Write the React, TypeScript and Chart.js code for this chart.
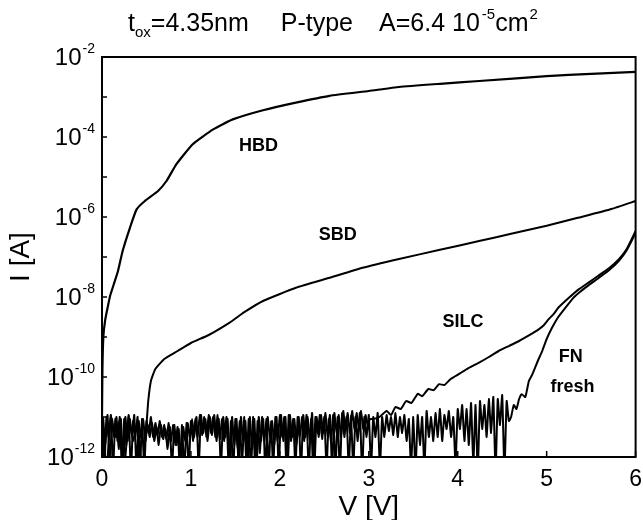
import React, { useEffect, useRef } from "react";
import { Chart, registerables } from "chart.js";

Chart.register(...registerables);

const FONT = "'Liberation Sans', Arial, Helvetica, sans-serif";

// Title pieces: text and script level (0 normal, -1 subscript, 1 superscript)
const titlePieces = ["t", "ox", "=4.35nm", "P-type", "A=6.4 10", "-5", "cm", "2"];
const titleLevels = [0, -1, 0, 0, 0, 1, 0, 1];
const titleGapsAfter = [0, 0, 32, 26, 2, 0, 1, 0];
const xAxisTitle = "V [V]";
const yAxisTitle = "I [A]";

const xTickValues = [0, 1, 2, 3, 4, 5, 6];
const yTickExponents = [-12, -11, -10, -9, -8, -7, -6, -5, -4, -3, -2];
const yLabelExponents = [-12, -10, -8, -6, -4, -2];

// HBD curve (V, log10 I)
const hbdV = [0, 0.005, 0.015, 0.034, 0.06, 0.09, 0.13, 0.18, 0.232, 0.314, 0.389, 0.482, 0.63, 0.725, 0.837, 1.02, 1.25, 1.47, 1.81, 2.18, 2.56, 3.0, 3.34, 3.8, 4.24, 5.0, 5.5, 6.0];
const hbdLogI = [-11.0, -9.8, -9.0, -8.6, -8.3, -7.98, -7.7, -7.35, -6.85, -6.27, -5.81, -5.6, -5.35, -5.1, -4.68, -4.18, -3.81, -3.56, -3.33, -3.14, -2.97, -2.85, -2.75, -2.67, -2.6, -2.48, -2.42, -2.37];

// SBD: noise floor then curve
const sbdNoiseStartV = 0.0;
const sbdNoiseStepV = 0.05;
const sbdNoiseLogI = [-11.05, -12.3, -11.0, -11.5, -11.1, -12.3, -11.0, -11.6, -11.1, -12.4, -11.2];
const sbdV = [0.52, 0.55, 0.6, 0.7, 0.85, 1.0, 1.2, 1.435, 1.6, 1.81, 2.18, 2.56, 2.93, 3.34, 3.8, 4.24, 4.6, 5.0, 5.35, 5.73, 6.0];
const sbdLogI = [-10.6, -10.1, -9.8, -9.55, -9.35, -9.15, -8.95, -8.64, -8.38, -8.1, -7.77, -7.52, -7.27, -7.05, -6.82, -6.6, -6.42, -6.22, -6.02, -5.8, -5.6];

// SILC: noise floor then curve
const silcNoiseStartV = 0.0125;
const silcNoiseStepV = 0.025;
const silcNoiseLogI = [
  -11.0, -11.7, -10.95, -12.3, -11.05, -11.5, -11.0, -11.8, -11.05, -12.4,
  -11.0, -11.6, -11.05, -11.45, -10.95, -12.3, -11.1, -11.5, -11.05, -11.6,
  -11.2, -11.5, -11.15, -11.6, -11.25, -11.7, -11.2, -11.55, -11.3, -11.8,
  -11.25, -12.3, -11.2, -11.7, -11.3, -12.4, -11.25, -11.6, -11.15, -11.5,
  -11.05, -11.5, -11.0, -12.3, -10.95, -11.4, -11.05, -11.6, -11.0, -11.45,
  -10.95, -11.6, -11.05, -12.3, -11.0, -11.5, -11.05, -12.4, -11.0, -11.7,
  -11.05, -12.3, -11.0, -11.6, -11.1, -12.4, -11.0, -11.8, -11.05, -12.3,
  -11.0, -11.6, -11.05, -12.4, -11.0, -11.5, -11.1, -11.7, -11.0, -12.3,
  -10.95, -11.6, -11.0, -12.3, -10.95, -11.5, -11.05, -11.7, -11.0, -12.4,
  -10.95, -11.5, -11.0, -11.6, -10.9, -12.3, -11.0, -11.5, -10.95, -11.4,
  -10.9, -11.5, -10.95, -12.3, -10.9, -11.4, -10.95, -11.5, -10.85, -11.3,
  -10.9, -11.4, -10.85, -11.3, -10.9, -11.25, -10.85, -11.3, -10.95, -11.2,
  -11.05,
];
const silcV = [3.05, 3.12, 3.2, 3.25, 3.3, 3.36, 3.42, 3.48, 3.55, 3.6, 3.67, 3.73, 3.79, 3.85, 3.92, 4.01, 4.12, 4.24, 4.35, 4.46, 4.58, 4.69, 4.8, 4.91, 4.97, 5.02, 5.08, 5.13, 5.25, 5.36, 5.47, 5.58, 5.7, 5.81, 5.9, 6.0];
const silcLogI = [-11.05, -11.0, -10.85, -10.95, -10.75, -10.8, -10.6, -10.65, -10.42, -10.48, -10.3, -10.33, -10.18, -10.2, -10.05, -9.93, -9.78, -9.64, -9.5, -9.35, -9.22, -9.1, -8.96, -8.81, -8.7, -8.56, -8.42, -8.27, -8.02, -7.81, -7.64, -7.47, -7.28, -7.06, -6.8, -6.35];

// FN fresh: noise floor then curve
const fnNoiseStartV = 0.0;
const fnNoiseStepV = 0.025;
const fnNoiseLogI = [
  -10.95, -12.4, -11.0, -11.5, -10.95, -12.3, -11.05, -11.6, -11.0, -12.4,
  -11.05, -11.7, -10.95, -12.4, -11.1, -11.5, -11.0, -12.5, -11.05, -12.3,
  -11.1, -11.4, -11.0, -11.5, -11.15, -11.45, -11.1, -11.5, -11.2, -11.55,
  -11.15, -11.6, -11.2, -11.7, -11.25, -12.3, -11.2, -12.4, -11.15, -12.3,
  -11.1, -11.6, -11.05, -11.5, -10.95, -11.45, -11.0, -11.5, -10.95, -11.4,
  -11.0, -11.5, -10.95, -11.55, -11.05, -11.6, -11.0, -12.3, -11.1, -12.4,
  -11.05, -11.8, -11.1, -12.2, -11.0, -12.3, -11.05, -12.4, -11.0, -12.5,
  -11.1, -11.9, -11.0, -11.6, -11.05, -12.3, -11.1, -12.3, -11.0, -11.6,
  -10.95, -11.5, -11.0, -12.3, -10.95, -11.6, -11.05, -12.3, -11.0, -11.5,
  -11.0, -11.6, -10.95, -12.4, -11.05, -12.3, -11.0, -11.4, -10.95, -11.55,
  -11.0, -12.3, -11.05, -11.6, -10.95, -12.3, -11.0, -12.4, -10.9, -11.5,
  -11.0, -12.3, -10.95, -12.3, -11.0, -11.6, -10.9, -12.4, -11.0, -11.5,
  -10.95, -12.3, -11.0, -11.5, -10.9, -12.3, -11.0, -11.5, -10.95, -11.35,
  -11.0, -11.45, -10.9, -11.5, -11.0, -11.4, -10.95, -11.6, -11.05, -12.3,
  -11.0, -12.4, -10.95, -11.7, -11.0, -12.3, -10.85, -11.5, -11.0, -11.6,
  -10.9, -11.5, -10.8, -11.6, -10.95, -11.3, -10.85, -11.5, -11.0, -12.2,
  -10.8, -11.3, -10.7, -11.6, -10.8, -11.7, -10.65, -12.2, -10.7, -12.4,
  -10.6, -11.3, -10.7, -11.5, -10.55, -11.4, -10.5, -12.4, -10.55, -11.2,
  -10.45, -12.4, -10.6, -11.1, -11.0,
];
const fnV = [4.63, 4.66, 4.69, 4.72, 4.76, 4.8, 4.84, 4.9, 4.95, 5.0, 5.06, 5.13, 5.21, 5.3, 5.36, 5.45, 5.58, 5.7, 5.81, 5.9, 6.0];
const fnLogI = [-10.7, -10.8, -10.55, -10.43, -10.5, -10.1, -9.93, -9.6, -9.35, -9.05, -8.77, -8.5, -8.27, -8.02, -7.9, -7.74, -7.53, -7.33, -7.1, -6.83, -6.4];

// In-plot labels
const noteTexts = ["HBD", "SBD", "SILC", "FN", "fresh"];
const noteV = [1.76, 2.65, 4.06, 5.27, 5.29];
const noteLogI = [-4.23, -6.45, -8.62, -9.5, -10.25];

const pts = (vs: number[], ls: number[]) => vs.map((v, i) => ({ x: v, y: Math.pow(10, ls[i]) }));
const gridPts = (start: number, step: number, ls: number[]) =>
  ls.map((l, i) => ({ x: +(start + i * step).toFixed(4), y: Math.pow(10, l) }));

const framePlugin = {
  id: "frameAndNotes",
  afterDraw(chart: any) {
    const { ctx, chartArea, scales } = chart;
    const xs = scales.x;
    const ys = scales.y;
    ctx.save();
    ctx.strokeStyle = "#000";
    ctx.lineWidth = 2;
    ctx.strokeRect(chartArea.left, chartArea.top, chartArea.right - chartArea.left, chartArea.bottom - chartArea.top);
    ctx.lineWidth = 1.5;
    yTickExponents.forEach((e) => {
      const y = ys.getPixelForValue(Math.pow(10, e));
      ctx.beginPath();
      ctx.moveTo(chartArea.left, y);
      ctx.lineTo(chartArea.left + 5, y);
      ctx.stroke();
    });
    xTickValues.forEach((v) => {
      const x = xs.getPixelForValue(v);
      ctx.beginPath();
      ctx.moveTo(x, chartArea.bottom);
      ctx.lineTo(x, chartArea.bottom - 6);
      ctx.stroke();
    });
    ctx.fillStyle = "#000";
    ctx.font = `bold 18px ${FONT}`;
    ctx.textAlign = "center";
    ctx.textBaseline = "middle";
    noteTexts.forEach((t, i) => {
      ctx.fillText(t, xs.getPixelForValue(noteV[i]), ys.getPixelForValue(Math.pow(10, noteLogI[i])));
    });

    // Y tick labels: 10 with raised exponent
    const right = chartArea.left - 7;
    yLabelExponents.forEach((e) => {
      const y = ys.getPixelForValue(Math.pow(10, e));
      const ex = String(e);
      ctx.font = `14px ${FONT}`;
      const ew = ctx.measureText(ex).width;
      ctx.textAlign = "left";
      ctx.textBaseline = "alphabetic";
      ctx.fillText(ex, right - ew, y - 4);
      ctx.font = `24px ${FONT}`;
      ctx.textAlign = "right";
      ctx.fillText("10", right - ew - 1, y + 8);
    });

    // Title with sub/superscripts
    ctx.textAlign = "left";
    ctx.textBaseline = "alphabetic";
    let x = 128;
    const base = 31;
    titlePieces.forEach((t, i) => {
      const lvl = titleLevels[i];
      ctx.font = lvl === 0 ? `25px ${FONT}` : `15px ${FONT}`;
      const y = lvl === 0 ? base : lvl < 0 ? base + 6 : base - 12;
      ctx.fillText(t, x, y);
      x += ctx.measureText(t).width + titleGapsAfter[i];
    });
    ctx.restore();
  },
};

export default function App() {
  const ref = useRef<HTMLCanvasElement | null>(null);
  useEffect(() => {
    if (!ref.current) return;
    const line = (data: any[], width = 2) => ({
      data,
      borderColor: "#000",
      backgroundColor: "#000",
      borderWidth: width,
      pointRadius: 0,
      tension: 0.15,
      fill: false,
    });
    const chart = new Chart(ref.current, {
      type: "line",
      data: {
        datasets: [
          line(gridPts(fnNoiseStartV, fnNoiseStepV, fnNoiseLogI).concat(pts(fnV, fnLogI)), 2),
          line(gridPts(silcNoiseStartV, silcNoiseStepV, silcNoiseLogI).concat(pts(silcV, silcLogI)), 2),
          line(gridPts(sbdNoiseStartV, sbdNoiseStepV, sbdNoiseLogI).concat(pts(sbdV, sbdLogI)), 2),
          line(pts(hbdV, hbdLogI), 2.2),
        ],
      },
      options: {
        responsive: false,
        animation: false,
        layout: { padding: { left: 0, right: 6, top: 57, bottom: 0 } },
        plugins: {
          legend: { display: false },
          tooltip: { enabled: false },
          title: { display: false },
        },
        scales: {
          x: {
            type: "linear",
            min: 0,
            max: 6,
            afterBuildTicks: (s: any) => {
              s.ticks = xTickValues.map((v) => ({ value: v }));
            },
            afterFit: (s: any) => {
              s.height = 63;
            },
            grid: { display: false },
            border: { display: true, color: "#000", width: 2 },
            ticks: {
              color: "#000",
              font: { family: FONT, size: 23 },
              padding: 1,
              maxRotation: 0,
              callback: (v: any) => String(v),
            },
            title: {
              display: true,
              text: xAxisTitle,
              color: "#000",
              font: { family: FONT, size: 28 },
              padding: { top: -6, bottom: -4 },
            },
          },
          y: {
            type: "logarithmic",
            min: 1e-12,
            max: 1e-2,
            afterBuildTicks: (s: any) => {
              s.ticks = yTickExponents.map((e) => ({ value: Math.pow(10, e) }));
            },
            afterFit: (s: any) => {
              s.width = 102;
            },
            grid: { display: false },
            border: { display: true, color: "#000", width: 2 },
            ticks: { display: false },
            title: {
              display: true,
              text: yAxisTitle,
              color: "#000",
              font: { family: FONT, size: 28 },
              padding: { top: 4, bottom: 0 },
            },
          },
        },
      },
      plugins: [framePlugin],
    } as any);
    return () => chart.destroy();
  }, []);
  return (
    <div style={{ position: "fixed", left: 0, top: 0, width: 643, height: 520, background: "#fff" }}>
      <canvas ref={ref} width={643} height={520} style={{ width: 643, height: 520 }} />
    </div>
  );
}
